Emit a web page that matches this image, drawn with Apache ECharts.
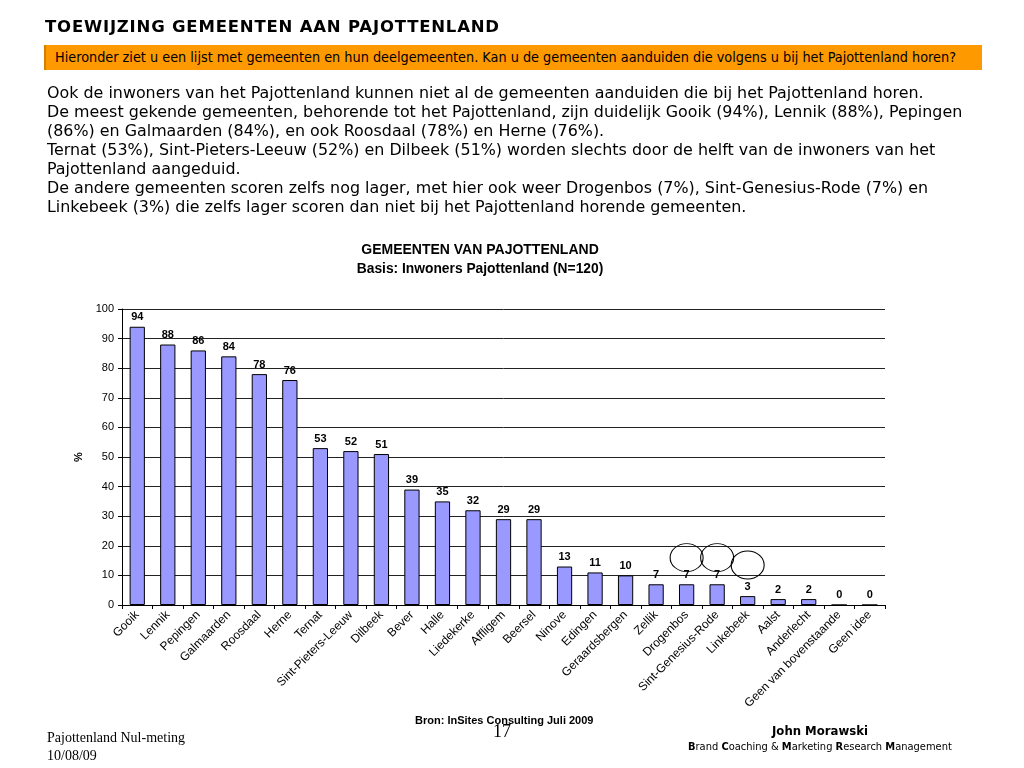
<!DOCTYPE html>
<html><head><meta charset="utf-8">
<script src="https://cdn.jsdelivr.net/npm/echarts@6/dist/echarts.min.js"></script>
<style>
html,body{margin:0;padding:0;background:#fff;width:1024px;height:768px;overflow:hidden;}
#chart{position:absolute;left:0;top:0;width:1024px;height:768px;}
.t{position:absolute;white-space:nowrap;color:#000;}
</style></head>
<body>
<div id="chart"></div>
<div class="t" style="left:45px;top:17px;font:bold 16.5px 'DejaVu Sans';letter-spacing:0.8px;">TOEWIJZING GEMEENTEN AAN PAJOTTENLAND</div>
<div class="t" style="left:44px;top:45px;width:936px;height:25px;background:#ff9900;border-left:2px solid #d08000;"></div>
<div class="t" style="left:55px;top:49px;font:14.3px 'DejaVu Sans Condensed','DejaVu Sans';">Hieronder ziet u een lijst met gemeenten en hun deelgemeenten. Kan u de gemeenten aanduiden die volgens u bij het Pajottenland horen?</div>
<div class="t" style="left:47px;top:83px;font:15.9px 'DejaVu Sans';line-height:19px;">Ook de inwoners van het Pajottenland kunnen niet al de gemeenten aanduiden die bij het Pajottenland horen.<br>De meest gekende gemeenten, behorende tot het Pajottenland, zijn duidelijk Gooik (94%), Lennik (88%), Pepingen<br>(86%) en Galmaarden (84%), en ook Roosdaal (78%) en Herne (76%).<br>Ternat (53%), Sint-Pieters-Leeuw (52%) en Dilbeek (51%) worden slechts door de helft van de inwoners van het<br>Pajottenland aangeduid.<br>De andere gemeenten scoren zelfs nog lager, met hier ook weer Drogenbos (7%), Sint-Genesius-Rode (7%) en<br>Linkebeek (3%) die zelfs lager scoren dan niet bij het Pajottenland horende gemeenten.</div>
<div class="t" style="left:415px;top:714px;font:bold 11px 'Liberation Sans';">Bron: InSites Consulting Juli 2009</div>
<div class="t" style="left:493px;top:721px;font:18px 'Liberation Serif';">17</div>
<div class="t" style="left:47px;top:729px;font:14px 'Liberation Serif';line-height:18px;">Pajottenland Nul-meting<br>10/08/09</div>
<div class="t" style="left:772px;top:723px;font:bold 13px 'DejaVu Sans Condensed','DejaVu Sans';">John Morawski</div>
<div class="t" style="left:688px;top:740px;font:11px 'DejaVu Sans Condensed','DejaVu Sans';"><b>B</b>rand <b>C</b>oaching &amp; <b>M</b>arketing <b>R</b>esearch <b>M</b>anagement</div>
<script>
var categories = ['Gooik','Lennik','Pepingen','Galmaarden','Roosdaal','Herne','Ternat','Sint-Pieters-Leeuw','Dilbeek','Bever','Halle','Liedekerke','Affligem','Beersel','Ninove','Edingen','Geraardsbergen','Zellik','Drogenbos','Sint-Genesius-Rode','Linkebeek','Aalst','Anderlecht','Geen van bovenstaande','Geen idee'];
var values = [94,88,86,84,78,76,53,52,51,39,35,32,29,29,13,11,10,7,7,7,3,2,2,0,0];
var circled = [['Drogenbos',16],['Sint-Genesius-Rode',16],['Linkebeek',13.5]];

var chart = echarts.init(document.getElementById('chart'));
chart.setOption({
  animation:false,
  title:{text:'GEMEENTEN VAN PAJOTTENLAND',subtext:'Basis: Inwoners Pajottenland (N=120)',left:475,textAlign:'center',top:238,itemGap:5,
    textStyle:{fontFamily:'Liberation Sans',fontSize:14,fontWeight:'bold',color:'#000'},
    subtextStyle:{fontFamily:'Liberation Sans',fontSize:13.8,fontWeight:'bold',color:'#000'}},
  grid:{left:122,top:309,right:139,bottom:163},
  xAxis:{type:'category',data:categories,
    axisLine:{lineStyle:{color:'#000'}},
    axisTick:{show:true,length:4,lineStyle:{color:'#000'}},
    axisLabel:{rotate:45,interval:0,fontFamily:'Liberation Sans',fontSize:12,color:'#000',margin:8}},
  yAxis:{type:'value',min:0,max:100,interval:10,name:'%',nameLocation:'middle',nameGap:30,nameRotate:90,
    nameTextStyle:{fontFamily:'Liberation Sans',fontSize:11,fontWeight:'bold',color:'#000'},
    axisLine:{show:true,lineStyle:{color:'#000'}},
    axisTick:{show:true,length:4,lineStyle:{color:'#000'}},
    axisLabel:{fontFamily:'Liberation Sans',fontSize:11,color:'#000',margin:8},
    splitLine:{lineStyle:{color:'#222',width:1}}},
  series:[{type:'bar',data:values,barWidth:'50%',
    itemStyle:{color:'#9999ff',borderColor:'#000',borderWidth:1},
    label:{show:true,position:'top',distance:4,fontFamily:'Liberation Sans',fontSize:11,fontWeight:'bold',color:'#000'},
    markPoint:{symbol:'circle',symbolSize:[33,28],silent:true,label:{show:false},
      itemStyle:{color:'rgba(0,0,0,0)',borderColor:'#000',borderWidth:1},
      data:circled.map(function(c){return {coord:c};})}
  }]
});
</script>
</body></html>
